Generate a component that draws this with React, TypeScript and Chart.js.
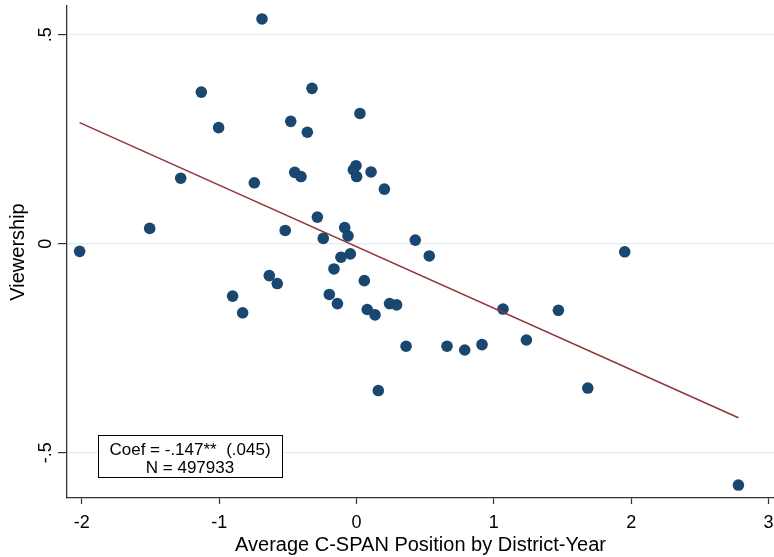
import React, { useEffect, useRef } from "react";
import { Chart, registerables } from "chart.js";

Chart.register(...registerables);

// Average C-SPAN position (x) and viewership (y), one point per bin
const positionX = [
  -0.688, -1.130, -0.324, 0.025, -0.479, -1.004, -0.358, -1.280, -0.744, -0.450,
  -0.404, -0.004, -0.023, 0.001, 0.106, 0.203, -0.285, -1.506, -0.519, -0.242,
  -0.086, -0.062, -2.016, -0.113, -0.045, -0.164, 0.428, 0.530, 1.953, -0.635,
  -0.577, -0.902, -0.829, 0.057, -0.198, -0.139, 0.078, 0.135, 0.241, 0.159,
  0.292, 0.361, 0.659, 0.788, 0.914, 1.067, 1.470, 1.237, 1.684, 2.781,
];
const viewershipY = [
  0.538, 0.363, 0.372, 0.312, 0.293, 0.278, 0.267, 0.157, 0.146, 0.171,
  0.161, 0.187, 0.177, 0.161, 0.172, 0.131, 0.064, 0.037, 0.032, 0.013,
  0.039, 0.019, -0.018, -0.032, -0.024, -0.060, 0.009, -0.029, -0.019, -0.076,
  -0.095, -0.125, -0.165, -0.088, -0.121, -0.143, -0.157, -0.170, -0.143, -0.351,
  -0.146, -0.245, -0.245, -0.254, -0.241, -0.156, -0.159, -0.230, -0.345, -0.577,
];

// Fitted regression line endpoints
const fitLineX = [-2.016, 2.781];
const fitLineY = [0.29, -0.416];

const xTickValues = [-2, -1, 0, 1, 2, 3];
const xTickLabels = ["-2", "-1", "0", "1", "2", "3"];
const yTickValues = [-0.5, 0, 0.5];
const yTickLabels = ["-.5", "0", ".5"];

const xTitle = "Average C-SPAN Position by District-Year";
const yTitle = "Viewership";
const statsLines = ["Coef = -.147**  (.045)", "N = 497933"];

const FONT = "'Liberation Sans', Arial, Helvetica, sans-serif";
const MARKER = "#1a476f";
const FIT = "#90353b";
const AXIS = "#333333";
const GRID = "#e4ecef";

// Draws the rotated y tick labels and the coefficient box
const overlayPlugin = {
  id: "overlay",
  afterDatasetsDraw(chart: any) {
    const { ctx, chartArea, scales } = chart;
    const y = scales.y;
    ctx.save();
    ctx.fillStyle = "#000";
    ctx.font = `18px ${FONT}`;
    ctx.textAlign = "center";
    ctx.textBaseline = "alphabetic";
    yTickValues.forEach((v, i) => {
      const py = y.getPixelForValue(v);
      ctx.save();
      ctx.translate(chartArea.left - 16, py);
      ctx.rotate(-Math.PI / 2);
      ctx.fillText(yTickLabels[i], 0, 0);
      ctx.restore();
    });

    // coefficient box in the lower-left corner of the plot
    const bx = chartArea.left + 31;
    const bw = 184;
    const bh = 42;
    const by = chartArea.bottom - 63;
    ctx.fillStyle = "#ffffff";
    ctx.fillRect(bx, by, bw, bh);
    ctx.strokeStyle = "#000";
    ctx.lineWidth = 1;
    ctx.strokeRect(bx + 0.5, by + 0.5, bw, bh);
    ctx.fillStyle = "#000";
    ctx.font = `17px ${FONT}`;
    ctx.textAlign = "center";
    statsLines.forEach((line, i) => {
      ctx.fillText(line, bx + bw / 2, by + 19.5 + i * 18);
    });
    ctx.restore();
  },
};

export default function App() {
  const canvasRef = useRef<HTMLCanvasElement | null>(null);

  useEffect(() => {
    if (!canvasRef.current) return;
    const points = positionX.map((x, i) => ({ x, y: viewershipY[i] }));
    const fit = fitLineX.map((x, i) => ({ x, y: fitLineY[i] }));

    const chart = new Chart(canvasRef.current, {
      type: "scatter",
      data: {
        datasets: [
          {
            type: "line",
            label: "Fitted values",
            data: fit,
            borderColor: FIT,
            borderWidth: 1.5,
            pointRadius: 0,
            fill: false,
            tension: 0,
          } as any,
          {
            label: "Viewership",
            data: points,
            backgroundColor: MARKER,
            borderWidth: 0,
            pointRadius: 5.8,
            pointHoverRadius: 5.8,
          },
        ],
      },
      options: {
        responsive: false,
        animation: false,
        events: [],
        layout: { autoPadding: false, padding: { top: 6, right: 0, left: 0, bottom: 0 } },
        plugins: {
          legend: { display: false },
          tooltip: { enabled: false },
        },
        scales: {
          x: {
            type: "linear",
            min: -2.108,
            max: 3.04,
            afterBuildTicks: (scale: any) => {
              scale.ticks = xTickValues.map((value) => ({ value }));
            },
            afterFit: (scale: any) => {
              scale.height = 59;
              scale.paddingLeft = 0;
              scale.paddingRight = 0;
            },
            grid: {
              display: true,
              drawOnChartArea: false,
              drawTicks: true,
              tickLength: 6,
              tickColor: AXIS,
              tickWidth: 1.2,
            },
            border: { display: true, color: AXIS, width: 1.3 },
            ticks: {
              color: "#000",
              font: { family: FONT, size: 18 },
              padding: 8,
              maxRotation: 0,
              autoSkip: false,
              callback: (_v: any, i: number) => xTickLabels[i],
            },
            title: {
              display: true,
              text: xTitle,
              color: "#000",
              font: { family: FONT, size: 20 },
              padding: { top: 0, bottom: 0 },
            },
          },
          y: {
            type: "linear",
            min: -0.608,
            max: 0.569,
            afterBuildTicks: (scale: any) => {
              scale.ticks = yTickValues.map((value) => ({ value }));
            },
            afterFit: (scale: any) => {
              scale.width = 67;
              scale.paddingTop = 0;
              scale.paddingBottom = 0;
            },
            grid: {
              display: true,
              drawOnChartArea: true,
              color: GRID,
              lineWidth: 1.2,
              drawTicks: true,
              tickLength: 9,
              tickColor: AXIS,
              tickWidth: 1.2,
            },
            border: { display: true, color: AXIS, width: 1.3 },
            ticks: { display: false },
            title: {
              display: true,
              text: yTitle,
              color: "#000",
              font: { family: FONT, size: 20 },
              padding: { top: 6, bottom: 0 },
            },
          },
        },
      },
      plugins: [overlayPlugin],
    });

    return () => chart.destroy();
  }, []);

  return (
    <div style={{ position: "fixed", left: 0, top: 0, width: 774, height: 557, background: "#fff" }}>
      <canvas ref={canvasRef} width={774} height={557} style={{ display: "block" }} />
    </div>
  );
}
